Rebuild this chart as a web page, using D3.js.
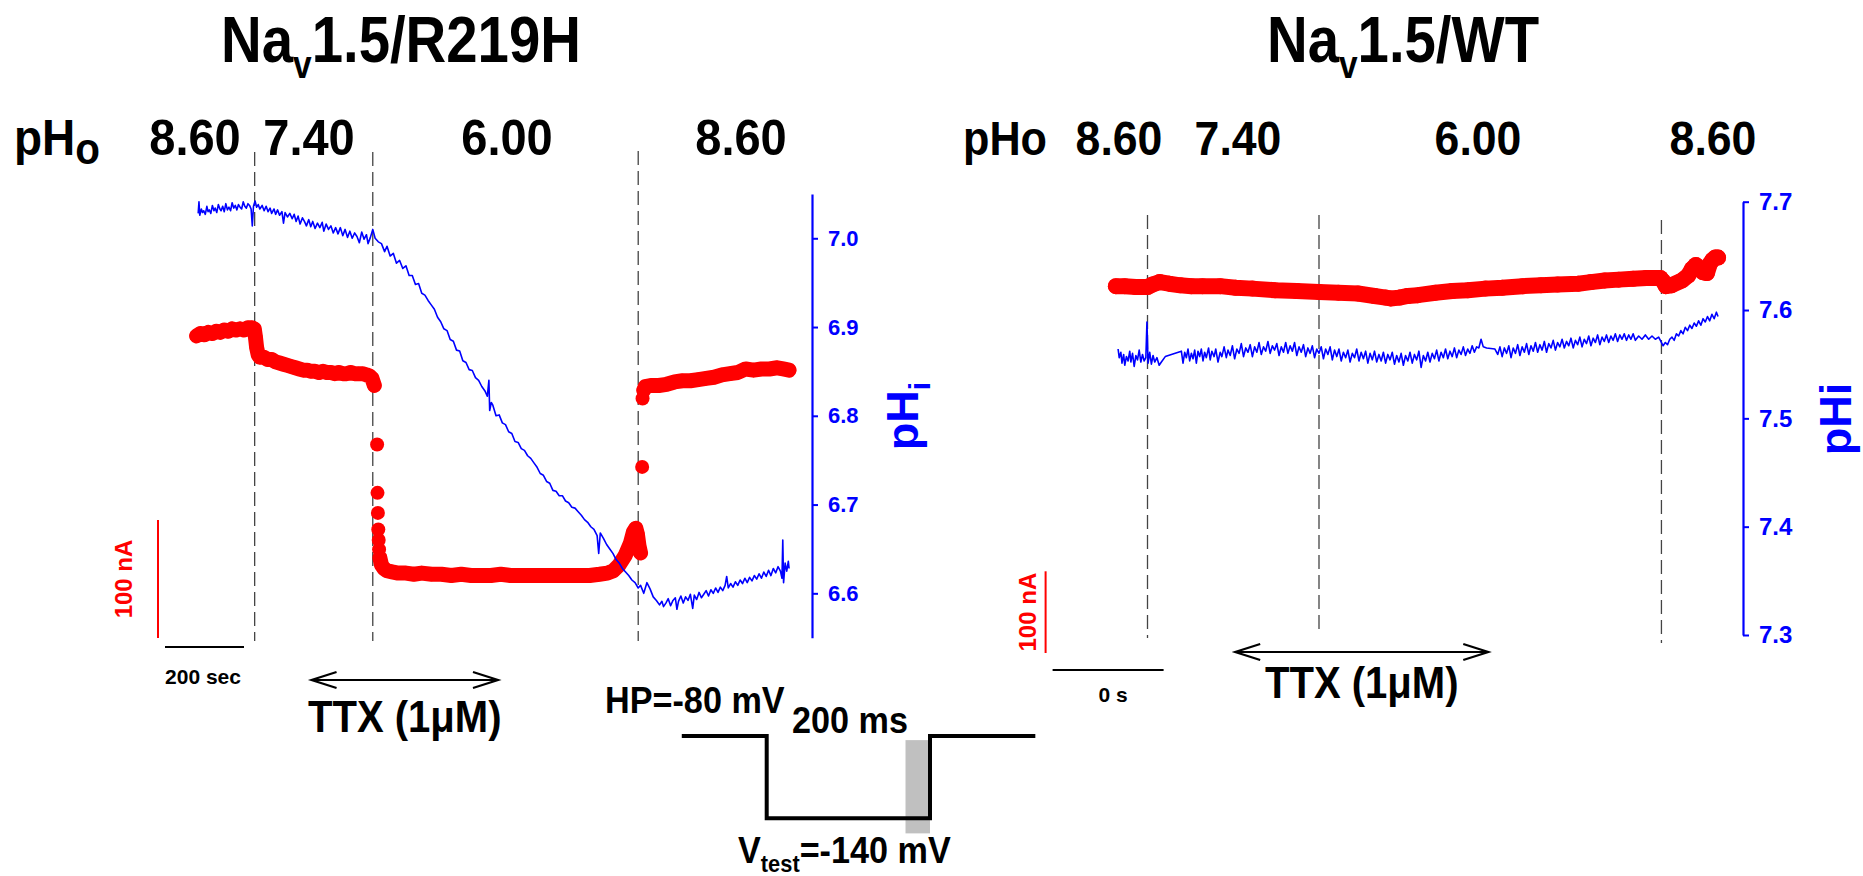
<!DOCTYPE html>
<html>
<head>
<meta charset="utf-8">
<script src="https://cdn.jsdelivr.net/npm/d3@7"></script>
<style>
  body { margin: 0; background: #fff; }
  text { font-family: "Liberation Sans", Arial, sans-serif; font-weight: bold; }
</style>
</head>
<body>
<script>
// ---- data: Nav1.5/R219H (time in s, current in nA, pHi) ----
var r219hSolutions = ["8.60", "7.40", "6.00", "8.60"];
var r219hChanges = [227, 526, 1198];          // solution switch times (s)
var r219hTtx = [371, 843];                    // TTX arrow span (s)

var r219hCurrent = [
  [[80,256],[90,258],[100,257],[110,259],[120,258],[130,260],[140,259],[150,261],[160,260],[170,262],
   [180,261],[190,262],[200,261],[210,263],[220,263],[226,262],[229,255],[232,246],[236,240],[240,238],
   [250,238],[260,236],[270,236],[280,234],[290,233],[300,232],[310,231],[320,230],[330,229],[340,228],
   [350,227],[360,227],[370,226],[380,226],[390,225],[400,226],[410,225],[420,225],[430,224],[440,225],
   [450,224],[460,224],[470,225],[480,224],[490,224],[500,224],[510,223],[518,222],[524,220],[530,214]],
  [[544,68],[548,62],[554,59],[562,57],[575,56],[590,55],[610,55],[630,54],[650,55],[675,54],[700,54],
   [725,53],[750,54],[775,53],[800,53],[825,53],[850,54],[875,53],[900,53],[925,53],[950,53],[975,53],
   [1000,53],[1025,53],[1050,53],[1075,53],[1100,54],[1120,55],[1135,57],[1150,62],[1165,70],[1178,80],
   [1186,90],[1192,93],[1196,88],[1200,78],[1204,72]],
  [[1212,210],[1216,213],[1230,214],[1250,214],[1270,215],[1290,217],[1310,218],[1330,218],[1350,219],
   [1370,220],[1390,221],[1410,223],[1430,224],[1450,225],[1470,228],[1490,227],[1510,228],[1530,228],
   [1550,229],[1565,228],[1580,227]]
];
var r219hJumps = [[537,164],[538,123],[539,106],[540,92],[541,83],[542,75],[1208,145],[1209,203]];

var r219hPhi = [
  [84,7.028],[86,7.041],[88,7.026],[92,7.033],[95,7.029],[98,7.031],[102,7.027],[106,7.036],[109,7.030],
  [112,7.032],[116,7.028],[120,7.037],[124,7.031],[127,7.034],[131,7.029],[135,7.038],[139,7.033],[142,7.031],
  [146,7.036],[150,7.030],[154,7.039],[158,7.032],[162,7.035],[166,7.031],[170,7.040],[174,7.034],[178,7.037],
  [182,7.032],[186,7.038],[190,7.035],[194,7.033],[198,7.041],[202,7.036],[206,7.034],[210,7.039],[214,7.037],
  [218,7.033],[221,7.014],[224,7.036],[228,7.042],[232,7.035],[236,7.038],[240,7.033],[246,7.037],[251,7.031],
  [256,7.036],[261,7.030],[266,7.034],[270,7.028],[276,7.033],[280,7.027],[285,7.032],[290,7.026],[296,7.030],
  [300,7.017],[304,7.029],[310,7.024],[316,7.028],[322,7.022],[327,7.027],[332,7.019],[337,7.025],[342,7.016],
  [348,7.023],[353,7.019],[358,7.014],[364,7.021],[369,7.013],[374,7.019],[380,7.011],[386,7.017],[392,7.012],
  [398,7.018],[402,7.008],[408,7.016],[414,7.010],[420,7.014],[426,7.006],[432,7.012],[438,7.005],[444,7.012],
  [450,7.003],[456,7.010],[462,7.001],[468,7.008],[474,7.000],[480,7.006],[486,7.002],[492,6.995],[498,7.007],
  [504,6.999],[510,7.004],[514,6.994],[520,7.001],[526,7.010],[532,7.000],[540,6.996],[548,6.994],[556,6.985],
  [562,6.991],[570,6.980],[578,6.983],[586,6.972],[594,6.975],[602,6.966],[610,6.969],[618,6.958],[626,6.958],
  [634,6.948],[642,6.949],[650,6.938],[658,6.936],[666,6.930],[674,6.925],[682,6.920],[690,6.911],[698,6.906],
  [706,6.898],[714,6.896],[722,6.886],[730,6.884],[738,6.874],[746,6.873],[754,6.862],[762,6.860],[770,6.852],
  [778,6.851],[786,6.843],[794,6.840],[802,6.833],[810,6.828],[816,6.822],[820,6.840],[822,6.806],[826,6.815],
  [830,6.812],[838,6.800],[846,6.801],[854,6.792],[862,6.790],[870,6.782],[878,6.780],[886,6.771],[894,6.770],
  [902,6.763],[910,6.761],[918,6.755],[926,6.752],[934,6.747],[942,6.742],[950,6.735],[958,6.733],[966,6.726],
  [974,6.724],[982,6.716],[990,6.715],[998,6.710],[1006,6.710],[1014,6.704],[1022,6.702],[1030,6.697],
  [1038,6.696],[1046,6.692],[1054,6.688],[1062,6.683],[1070,6.680],[1078,6.675],[1086,6.672],[1094,6.665],
  [1098,6.645],[1102,6.668],[1110,6.662],[1118,6.655],[1126,6.650],[1134,6.645],[1142,6.638],[1150,6.634],
  [1158,6.628],[1166,6.624],[1174,6.620],[1182,6.615],[1190,6.612],[1198,6.606],[1204,6.609],[1212,6.600],
  [1220,6.612],[1228,6.605],[1236,6.596],[1244,6.592],[1252,6.587],[1258,6.591],[1262,6.585],[1268,6.589],
  [1274,6.594],[1280,6.586],[1286,6.592],[1292,6.595],[1296,6.582],[1300,6.591],[1306,6.597],[1312,6.589],
  [1318,6.596],[1324,6.592],[1330,6.599],[1336,6.583],[1340,6.598],[1346,6.593],[1352,6.601],[1358,6.595],
  [1364,6.599],[1370,6.603],[1376,6.597],[1382,6.604],[1388,6.600],[1394,6.606],[1400,6.601],[1406,6.607],
  [1412,6.603],[1418,6.609],[1422,6.619],[1426,6.606],[1432,6.611],[1438,6.607],[1444,6.613],[1450,6.609],
  [1456,6.615],[1462,6.611],[1468,6.617],[1474,6.612],[1480,6.618],[1486,6.614],[1492,6.620],[1498,6.616],
  [1504,6.622],[1510,6.617],[1516,6.624],[1522,6.619],[1528,6.626],[1534,6.620],[1540,6.628],[1546,6.623],
  [1552,6.630],[1558,6.625],[1562,6.617],[1564,6.660],[1566,6.612],[1570,6.634],[1574,6.625],[1578,6.636],
  [1580,6.628]
];
var r219hPhiTicks = [6.6, 6.7, 6.8, 6.9, 7.0];

// ---- data: Nav1.5/WT ----
var wtSolutions = ["8.60", "7.40", "6.00", "8.60"];
var wtChanges = [171, 480, 1097];
var wtTtx = [329, 785];

var wtCurrent = [
  [[114,449],[130,449],[150,448],[171,448],[180,451],[193,454],[210,452],[230,450],[250,449],[270,449],
   [302,449],[330,447],[360,446],[401,444],[440,443],[480,442],[515,441],[550,440],[580,437],[600,435],
   [609,434],[625,435],[640,437],[658,438],[690,441],[720,443],[748,444],[780,446],[810,447],[847,449],
   [880,450],[910,451],[947,452],[970,454],[995,456],[1020,457],[1046,458],[1070,459],[1095,459],[1100,455],
   [1105,449],[1115,450],[1134,456],[1145,462],[1152,470],[1159,475],[1166,470],[1172,466],[1179,465],
   [1184,476],[1189,481],[1194,484],[1199,484]]
];

var wtPhi = [
  [118,7.564],[120,7.556],[123,7.561],[125,7.551],[128,7.559],[130,7.549],[133,7.557],[136,7.553],[139,7.562],
  [141,7.552],[144,7.560],[147,7.548],[150,7.558],[153,7.554],[156,7.563],[159,7.552],[162,7.559],[165,7.553],
  [168,7.556],[170,7.589],[172,7.551],[175,7.561],[178,7.550],[181,7.558],[184,7.552],[188,7.556],[192,7.549],
  [196,7.552],[203,7.557],[232,7.562],[235,7.551],[238,7.561],[241,7.556],[244,7.564],[247,7.553],[250,7.560],
  [253,7.555],[256,7.563],[259,7.551],[262,7.562],[265,7.557],[268,7.564],[271,7.553],[274,7.561],[277,7.556],
  [281,7.565],[284,7.554],[287,7.562],[291,7.557],[294,7.564],[298,7.552],[302,7.561],[305,7.557],[309,7.566],
  [313,7.556],[316,7.563],[320,7.558],[324,7.567],[328,7.555],[332,7.564],[336,7.560],[340,7.569],[344,7.557],
  [348,7.565],[352,7.561],[356,7.568],[360,7.557],[364,7.566],[368,7.561],[372,7.570],[376,7.559],[380,7.566],
  [384,7.562],[388,7.571],[392,7.560],[396,7.567],[400,7.563],[404,7.569],[408,7.558],[412,7.566],[416,7.561],
  [420,7.570],[424,7.560],[428,7.567],[432,7.562],[436,7.570],[440,7.558],[444,7.566],[448,7.561],[452,7.568],
  [456,7.557],[460,7.565],[464,7.560],[468,7.567],[472,7.556],[476,7.564],[480,7.560],[484,7.566],[488,7.555],
  [492,7.564],[496,7.559],[500,7.566],[504,7.554],[508,7.563],[512,7.557],[516,7.564],[520,7.553],[524,7.561],
  [528,7.556],[532,7.563],[536,7.552],[540,7.560],[544,7.556],[548,7.564],[552,7.553],[556,7.561],[560,7.555],
  [564,7.562],[568,7.551],[572,7.560],[576,7.554],[580,7.562],[584,7.552],[588,7.559],[592,7.553],[596,7.561],
  [600,7.551],[604,7.559],[608,7.554],[612,7.561],[616,7.550],[620,7.558],[624,7.552],[628,7.560],[632,7.549],
  [636,7.558],[640,7.553],[644,7.561],[648,7.551],[652,7.559],[656,7.554],[660,7.562],[664,7.547],[668,7.558],
  [672,7.553],[676,7.561],[680,7.552],[684,7.560],[688,7.555],[692,7.563],[696,7.553],[700,7.561],[704,7.556],
  [708,7.564],[712,7.555],[716,7.562],[720,7.557],[724,7.565],[728,7.556],[732,7.563],[736,7.559],[740,7.566],
  [744,7.558],[748,7.564],[752,7.560],[756,7.567],[760,7.561],[764,7.566],[768,7.565],[772,7.573],[776,7.566],
  [782,7.565],[797,7.564],[802,7.559],[806,7.566],[810,7.557],[814,7.565],[818,7.560],[822,7.567],[826,7.556],
  [830,7.565],[834,7.560],[838,7.568],[842,7.558],[846,7.566],[850,7.561],[854,7.569],[858,7.559],[862,7.567],
  [866,7.562],[870,7.570],[874,7.561],[878,7.568],[882,7.563],[886,7.571],[890,7.561],[894,7.569],[898,7.565],
  [902,7.572],[906,7.563],[910,7.570],[914,7.566],[918,7.573],[922,7.565],[926,7.571],[930,7.567],[934,7.574],
  [938,7.565],[942,7.572],[946,7.568],[950,7.575],[954,7.566],[958,7.573],[962,7.569],[966,7.576],[970,7.567],
  [974,7.574],[978,7.570],[982,7.577],[986,7.568],[990,7.575],[994,7.571],[998,7.577],[1002,7.570],[1006,7.576],
  [1010,7.572],[1014,7.578],[1018,7.571],[1022,7.577],[1026,7.573],[1030,7.578],[1034,7.572],[1038,7.577],
  [1042,7.573],[1046,7.578],[1050,7.572],[1056,7.576],[1062,7.573],[1068,7.577],[1074,7.573],[1080,7.576],
  [1086,7.573],[1092,7.575],[1096,7.571],[1100,7.567],[1104,7.570],[1108,7.568],[1112,7.573],[1116,7.575],
  [1120,7.572],[1124,7.578],[1128,7.576],[1132,7.581],[1136,7.578],[1140,7.584],[1144,7.581],[1148,7.586],
  [1152,7.583],[1156,7.588],[1160,7.585],[1164,7.590],[1168,7.586],[1172,7.592],[1176,7.589],[1180,7.594],
  [1184,7.590],[1188,7.596],[1192,7.592],[1196,7.598],[1199,7.594]
];
var wtPhiTicks = [7.3, 7.4, 7.5, 7.6, 7.7];

// ---- voltage protocol (ms, mV) ----
var protocolTime = [-104, 0, 0, 200, 200, 329];
var protocolVolt = [-80, -80, -140, -140, -80, -80];
var protocolWindow = [170, 200];

// ---- drawing ----
var svg = d3.select("body").append("svg")
    .attr("width", 1863)
    .attr("height", 876)
    .style("background", "#fff");

var blue = "#0000ff", red = "#ff0000";

// bold text, slightly condensed like the original figure
function label(x, y, size, sx) {
  return svg.append("text")
      .attr("transform", "translate(" + x + "," + y + ") scale(" + sx + ",1)")
      .style("font-size", size + "px");
}

// panel settings (scales in screen pixels)
var panels = [
  {
    title: "R219H", titleX: 401, solutions: r219hSolutions, changes: r219hChanges, ttx: r219hTtx,
    current: r219hCurrent, jumps: r219hJumps, phi: r219hPhi, ticks: r219hPhiTicks,
    x: d3.scaleLinear().domain([0, 1600]).range([165, 797]),
    yI: d3.scaleLinear().domain([0, 100]).range([638, 520]),
    yP: d3.scaleLinear().domain([6.55, 7.05]).range([637.7, 193.9]),
    axisX: 812, tickFont: 22, dashTop: [152, 152, 151], dashBottom: [641, 641, 641],
    bandWidth: 15, dotR: 7, ttxY: 680, ttxTextY: 732, barY: 647, barLabel: "200 sec", barLabelX: 203, barLabelY: 684,
    nALabelX: 132, solX: [195, 309, 507, 741], solSize: 50, solSx: 0.94
  },
  {
    title: "WT", titleX: 1403, solutions: wtSolutions, changes: wtChanges, ttx: wtTtx,
    current: wtCurrent, jumps: [], phi: wtPhi, ticks: wtPhiTicks,
    x: d3.scaleLinear().domain([0, 1200]).range([1052.6, 1718.6]),
    yI: d3.scaleLinear().domain([0, 100]).range([653, 571.3]),
    yP: d3.scaleLinear().domain([7.3, 7.7]).range([635, 201.7]),
    axisX: 1743, tickFont: 24, dashTop: [215, 215, 220], dashBottom: [638, 635, 643],
    bandWidth: 16, dotR: 8, ttxY: 652, ttxTextY: 698, barY: 670, barLabel: "0 s", barLabelX: 1113, barLabelY: 702,
    nALabelX: 1036, solX: [1119, 1238, 1478, 1713], solSize: 49, solSx: 0.91
  }
];

panels.forEach(function(p) {
  // title
  var t = label(p.titleX, 62, 64, 0.88).attr("text-anchor", "middle");
  t.append("tspan").text("Na");
  t.append("tspan").attr("dy", 16).style("font-size", "38px").text("v");
  t.append("tspan").attr("dy", -16).text("1.5/" + p.title);

  // pHo values
  p.solutions.forEach(function(s, i) {
    label(p.solX[i], 155, p.solSize, p.solSx).attr("text-anchor", "middle").text(s);
  });
});

// pHo row labels
var phoL = label(14, 155, 50, 0.92);
phoL.append("tspan").text("pH");
phoL.append("tspan").attr("dy", 9).style("font-size", "44px").text("o");
label(963, 155, 48, 0.9).text("pHo");

panels.forEach(function(p) {
  var g = svg.append("g");

  // dashed solution-change lines
  p.changes.forEach(function(t, i) {
    g.append("line")
        .attr("x1", p.x(t)).attr("x2", p.x(t))
        .attr("y1", p.dashTop[i]).attr("y2", p.dashBottom[i])
        .attr("stroke", "#444")
        .attr("stroke-width", 1.3)
        .attr("stroke-dasharray", "14,6");
  });

  // current trace: thick band plus dots
  var lineI = d3.line().x(function(d) { return p.x(d[0]); }).y(function(d) { return p.yI(d[1]); });
  p.current.forEach(function(seg) {
    g.append("path")
        .attr("d", lineI(seg))
        .attr("fill", "none")
        .attr("stroke", red)
        .attr("stroke-width", p.bandWidth)
        .attr("stroke-linecap", "round")
        .attr("stroke-linejoin", "round");
    g.selectAll(null).data(seg).enter().append("circle")
        .attr("cx", function(d) { return p.x(d[0]); })
        .attr("cy", function(d) { return p.yI(d[1]); })
        .attr("r", p.dotR)
        .attr("fill", red);
  });
  g.selectAll(null).data(p.jumps).enter().append("circle")
      .attr("cx", function(d) { return p.x(d[0]); })
      .attr("cy", function(d) { return p.yI(d[1]); })
      .attr("r", p.dotR)
      .attr("fill", red);

  // pHi trace
  var lineP = d3.line().x(function(d) { return p.x(d[0]); }).y(function(d) { return p.yP(d[1]); });
  g.append("path")
      .attr("d", lineP(p.phi))
      .attr("fill", "none")
      .attr("stroke", blue)
      .attr("stroke-width", 1.6)
      .attr("stroke-linejoin", "round");

  // pHi axis
  var ax = g.append("g")
      .attr("transform", "translate(" + p.axisX + ",0)")
      .call(d3.axisRight(p.yP).tickValues(p.ticks).tickFormat(d3.format(".1f"))
            .tickSize(6).tickSizeOuter(0).tickPadding(10));
  ax.select(".domain").attr("stroke", blue).attr("stroke-width", 2.2);
  ax.selectAll(".tick line").attr("stroke", blue).attr("stroke-width", 2);
  ax.selectAll(".tick text")
      .attr("fill", blue)
      .style("font-family", "'Liberation Sans', Arial, sans-serif")
      .style("font-weight", "bold")
      .style("font-size", p.tickFont + "px");

  // scale bars: 100 nA and time
  g.append("line")
      .attr("x1", p.x(0) - 7).attr("x2", p.x(0) - 7)
      .attr("y1", p.yI(0)).attr("y2", p.yI(100))
      .attr("stroke", red).attr("stroke-width", 2);
  g.append("text")
      .attr("transform", "translate(" + p.nALabelX + "," + ((p.yI(0) + p.yI(100)) / 2) + ") rotate(-90)")
      .attr("text-anchor", "middle")
      .attr("fill", red)
      .style("font-size", "24px")
      .text("100 nA");
  g.append("line")
      .attr("x1", p.x(0)).attr("x2", p.x(200))
      .attr("y1", p.barY).attr("y2", p.barY)
      .attr("stroke", "#000").attr("stroke-width", 2);
  g.append("text")
      .attr("x", p.barLabelX).attr("y", p.barLabelY)
      .attr("text-anchor", "middle")
      .style("font-size", "21px")
      .text(p.barLabel);

  // TTX double arrow
  var x1 = p.x(p.ttx[0]), x2 = p.x(p.ttx[1]), ay = p.ttxY;
  g.append("path")
      .attr("d", "M" + x1 + "," + ay + "H" + x2 +
                 "M" + (x1 + 25) + "," + (ay - 8) + "L" + x1 + "," + ay + "L" + (x1 + 25) + "," + (ay + 8) +
                 "M" + (x2 - 25) + "," + (ay - 8) + "L" + x2 + "," + ay + "L" + (x2 - 25) + "," + (ay + 8))
      .attr("fill", "none")
      .attr("stroke", "#000")
      .attr("stroke-width", 2.2);
  label((x1 + x2) / 2, p.ttxTextY, 44, 0.91)
      .attr("text-anchor", "middle")
      .text("TTX (1\u03bcM)");
});

// pHi axis titles
var phiL = svg.append("text")
    .attr("transform", "translate(918,416) rotate(-90)")
    .attr("text-anchor", "middle")
    .attr("fill", blue)
    .style("font-size", "45px");
phiL.append("tspan").text("pH");
phiL.append("tspan").attr("dy", 12).style("font-size", "30px").text("i");

svg.append("text")
    .attr("transform", "translate(1851,419) rotate(-90)")
    .attr("text-anchor", "middle")
    .attr("fill", blue)
    .style("font-size", "45px")
    .text("pHi");

// voltage protocol inset
var xp = d3.scaleLinear().domain([0, 200]).range([766.7, 930]);
var yp = d3.scaleLinear().domain([-80, -140]).range([736, 818.3]);
svg.append("rect")
    .attr("x", xp(protocolWindow[0]))
    .attr("width", xp(protocolWindow[1]) - xp(protocolWindow[0]))
    .attr("y", yp(-83))
    .attr("height", yp(-151) - yp(-83))
    .attr("fill", "#c0c0c0");
svg.append("path")
    .attr("d", d3.line()(protocolTime.map(function(t, i) { return [xp(t), yp(protocolVolt[i])]; })))
    .attr("fill", "none")
    .attr("stroke", "#000")
    .attr("stroke-width", 4);
label(605, 713, 36, 0.95).text("HP=-80 mV");
label(792, 733, 36, 0.95).text("200 ms");
var vt = label(738, 863, 36, 0.95);
vt.append("tspan").text("V");
vt.append("tspan").attr("dy", 9).style("font-size", "23px").text("test");
vt.append("tspan").attr("dy", -9).text("=-140 mV");
</script>
</body>
</html>
